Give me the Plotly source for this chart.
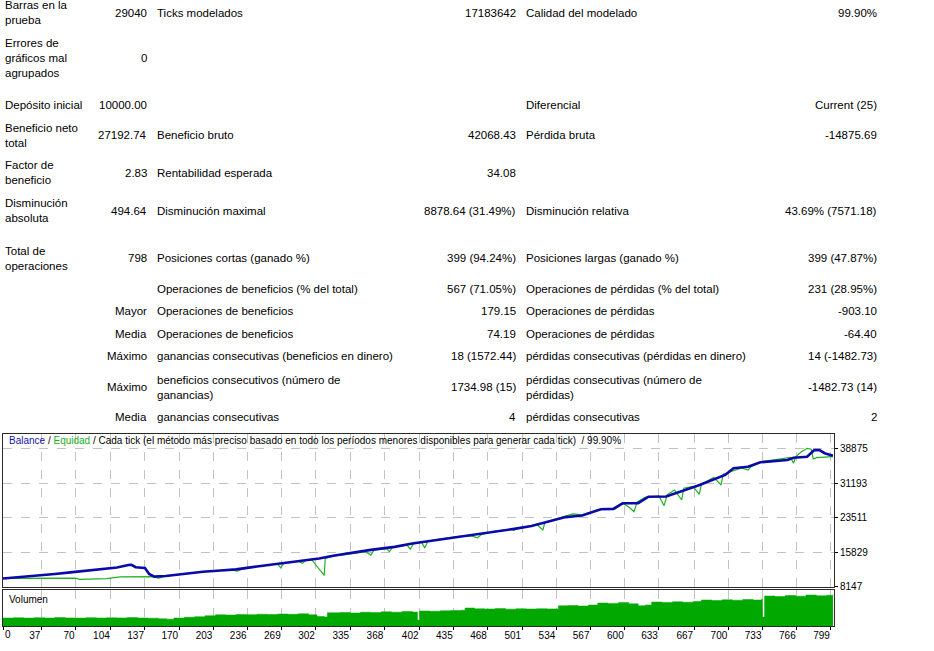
import plotly.graph_objects as go

# ---- report table (text only) ----
col1 = ["Barras en la<br>prueba", "Errores de<br>gráficos mal<br>agrupados", "Depósito inicial",
        "Beneficio neto<br>total", "Factor de<br>beneficio", "Disminución<br>absoluta",
        "Total de<br>operaciones", "", "", "", "", "", ""]
col2 = ["29040", "0", "10000.00", "27192.74", "2.83", "494.64", "798", "",
        "Mayor", "Media", "Máximo", "Máximo", "Media"]
col3 = ["Ticks modelados", "", "", "Beneficio bruto", "Rentabilidad esperada",
        "Disminución maximal", "Posiciones cortas (ganado %)",
        "Operaciones de beneficios (% del total)", "Operaciones de beneficios",
        "Operaciones de beneficios", "ganancias consecutivas (beneficios en dinero)",
        "beneficios consecutivos (número de<br>ganancias)", "ganancias consecutivas"]
col4 = ["17183642", "", "", "42068.43", "34.08", "8878.64 (31.49%)", "399 (94.24%)",
        "567 (71.05%)", "179.15", "74.19", "18 (1572.44)", "1734.98 (15)", "4"]
col5 = ["Calidad del modelado", "", "Diferencial", "Pérdida bruta", "",
        "Disminución relativa", "Posiciones largas (ganado %)",
        "Operaciones de pérdidas (% del total)", "Operaciones de pérdidas",
        "Operaciones de pérdidas", "pérdidas consecutivas (pérdidas en dinero)",
        "pérdidas consecutivas (número de<br>pérdidas)", "pérdidas consecutivas"]
col6 = ["99.90%", "", "Current (25)", "-14875.69", "", "43.69% (7571.18)", "399 (47.87%)",
        "231 (28.95%)", "-903.10", "-64.40", "14 (-1482.73)", "-1482.73 (14)", "2"]

# ---- balance curve ----
bal_x = [0, 20, 37, 50, 65, 80, 97, 110, 121, 124, 128, 133, 137, 141, 146, 157, 175, 193,
         210, 225, 245, 267, 285, 305, 320, 337, 355, 378, 395, 417, 435, 452, 470, 495,
         510, 526, 543, 559, 574, 577, 589, 598, 613, 623, 640, 671, 697, 705, 719, 731,
         757, 763, 776, 783, 788, 793, 801]
bal_y = [10000, 10350, 10700, 11000, 11360, 11680, 12030, 12450, 13000, 13050, 12500,
         12420, 12350, 11000, 10400, 10540, 11020, 11500, 11770, 12030, 12670, 13350,
         13920, 14460, 15120, 15790, 16370, 17030, 17770, 18510, 19070, 19620, 20270,
         21100, 21670, 22560, 23670, 24040, 25150, 25400, 25500, 26740, 26760, 28210,
         28250, 30690, 33060, 34540, 34890, 35870, 36380, 36900, 37120, 38610, 38580,
         37900, 37340]

# ---- equity curve ----
eq_x = [0, 20, 37, 60, 70, 74, 80, 100, 113, 135, 141, 146, 150, 153, 157, 175, 193, 210,
        220, 226, 230, 245, 265, 268, 271, 285, 289, 292, 298, 302, 306, 310, 311, 320,
        337, 350, 355, 358, 370, 373, 376, 390, 393, 396, 404, 407, 410, 420, 440, 452,
        458, 462, 475, 490, 493, 496, 505, 515, 521, 523, 530, 543, 550, 559, 574, 585,
        591, 598, 604, 609, 612, 620, 633, 638, 641, 648, 655, 657, 666, 672, 674, 686,
        693, 695, 713, 719, 722, 731, 745, 760, 763, 765, 770, 776, 780, 782, 785, 801]
eq_y = [10000, 9980, 9950, 10050, 10080, 9800, 9830, 9950, 10350, 10400, 10450, 10400,
        10000, 10250, 10540, 11020, 11520, 11770, 11920, 11620, 12020, 12670, 13270,
        12370, 13370, 13820, 13370, 13970, 14170, 13000, 11800, 10670, 14470, 15020,
        15520, 15970, 15170, 16320, 16670, 15970, 16970, 17420, 16520, 17670, 18070,
        16770, 18270, 18720, 19370, 19470, 19070, 19820, 20570, 20970, 20670, 21270,
        21470, 22070, 20820, 22470, 23020, 23970, 24370, 24170, 25320, 25470, 25470,
        26740, 25900, 24870, 27000, 28100, 28370, 26210, 28600, 29700, 27480, 30100,
        30500, 28750, 31000, 32500, 30820, 33200, 34600, 34150, 34900, 35950, 36500,
        36950, 35650, 37100, 38100, 38990, 38800, 36610, 36900, 37120]

# ---- volume ----
vol_x = [0, 10, 20, 30, 40, 50, 60, 70, 80, 90, 100, 110, 120, 130, 140, 150, 158, 165,
         175, 185, 195, 205, 215, 225, 235, 245, 255, 265, 275, 285, 295, 303, 310, 313,
         325, 335, 345, 355, 365, 375, 385, 395, 400, 402, 412, 422, 432, 442, 446, 455,
         465, 475, 485, 495, 505, 515, 525, 536, 545, 555, 565, 574, 584, 594, 604, 613,
         620, 626, 636, 646, 656, 666, 674, 684, 694, 704, 714, 724, 732, 733, 735, 745,
         755, 765, 775, 785, 795, 801]
vol_y = [0.80, 0.82, 0.79, 0.83, 0.80, 0.84, 0.81, 0.79, 0.83, 0.80, 0.82, 0.81, 0.84,
         0.80, 0.78, 0.72, 0.68, 0.80, 0.88, 0.93, 1.02, 1.12, 1.10, 1.16, 1.13, 1.18,
         1.15, 1.20, 1.17, 1.22, 1.12, 0.95, 0.90, 1.32, 1.35, 1.30, 1.38, 1.34, 1.42,
         1.38, 1.45, 1.40, 0.60, 1.50, 1.48, 1.52, 1.55, 1.58, 1.80, 1.72, 1.70, 1.74,
         1.68, 1.72, 1.70, 1.73, 1.71, 2.02, 2.05, 2.00, 2.10, 2.30, 2.26, 2.34, 2.22,
         2.02, 2.10, 2.40, 2.36, 2.42, 2.38, 2.45, 2.60, 2.55, 2.62, 2.58, 2.65, 2.60,
         2.68, 0.90, 3.00, 2.95, 3.05, 2.98, 3.10, 3.02, 3.08, 3.00]

x_ticks = [0, 37, 70, 104, 137, 170, 203, 236, 269, 302, 335, 368, 402, 435, 468, 501,
           534, 567, 600, 633, 667, 700, 733, 766, 799]
y_ticks = [8147, 15829, 23511, 31193, 38875]

title_txt = ('<span style="color:#1515A8">Balance</span> / '
             '<span style="color:#22B022">Equidad</span> / Cada tick (el método más preciso '
             'basado en todo los períodos menores disponibles para generar cada tick)  / 99.90%')

W, H = 934, 651


def fx(p):
    return p / W


def fy(p):
    return 1 - p / H


FONT = "Liberation Sans"
GRID = dict(showgrid=True, gridcolor="#C2C2C2", griddash="dash", gridwidth=1)
FRAME = dict(showline=True, linecolor="#2A2A2A", linewidth=1, mirror=True, zeroline=False,
             automargin=False)

fig = go.Figure()
fig.add_trace(go.Scatter(x=vol_x, y=vol_y, mode="lines", fill="tozeroy",
                         line=dict(color="#00A800", width=0.5, shape="hv"),
                         fillcolor="#00A800", xaxis="x2", yaxis="y2", hoverinfo="skip"))
fig.add_trace(go.Scatter(x=eq_x, y=eq_y, mode="lines", name="Equidad",
                         line=dict(color="#22B022", width=1.2)))
fig.add_trace(go.Scatter(x=bal_x, y=bal_y, mode="lines", name="Balance",
                         line=dict(color="#0A0AA8", width=2.6)))

fig.update_layout(
    width=W, height=H, margin=dict(l=0, r=0, t=0, b=0),
    paper_bgcolor="white", plot_bgcolor="white", showlegend=False,
    font=dict(family=FONT, size=11, color="black"),
    xaxis=dict(domain=[fx(3), fx(834)], range=[0, 802], anchor="y", tickvals=x_ticks,
               showticklabels=False, ticks="", **GRID, **FRAME),
    yaxis=dict(domain=[fy(587), fy(434)], range=[8100, 42175], anchor="x", side="right",
               tickvals=y_ticks, ticktext=[str(v) for v in y_ticks], ticks="outside",
               ticklen=3, tickcolor="#000", tickfont=dict(family=FONT, size=10),
               **GRID, **FRAME),
    xaxis2=dict(domain=[fx(3), fx(834)], range=[0, 802], anchor="y2", tickvals=x_ticks,
                ticktext=[""] + [str(v) for v in x_ticks[1:]],
                ticklabelposition="outside left", ticks="outside", ticklen=3,
                tickcolor="#000", tickfont=dict(family=FONT, size=10), **GRID, **FRAME),
    yaxis2=dict(domain=[fy(626), fy(590)], range=[0, 3.6], anchor="x2",
                showticklabels=False, ticks="", showgrid=False, **FRAME),
)

ann = []
row_y = [13, 58, 105, 135, 173, 211, 258, 289, 311, 334, 356, 387, 417]
cols = [(col1, 3, "left"), (col2, 149, "right"), (col3, 155, "left"),
        (col4, 518, "right"), (col5, 524, "left"), (col6, 879, "right")]
for texts, xp, al in cols:
    for t, yp in zip(texts, row_y):
        if t:
            ann.append(dict(x=fx(xp), y=fy(yp), xref="paper", yref="paper", text=t,
                            xanchor=al, yanchor="middle", align=al, showarrow=False,
                            font=dict(family=FONT, size=11.5, color="black")))

ann.append(dict(x=fx(7), y=fy(441), xref="paper", yref="paper", text=title_txt,
                xanchor="left", yanchor="middle", showarrow=False,
                font=dict(family=FONT, size=10, color="black")))
ann.append(dict(x=fx(7), y=fy(599), xref="paper", yref="paper", text="Volumen",
                xanchor="left", yanchor="middle", showarrow=False,
                font=dict(family=FONT, size=10, color="black")))
ann.append(dict(x=fx(3), y=fy(634), xref="paper", yref="paper", text="0",
                xanchor="left", yanchor="middle", showarrow=False,
                font=dict(family=FONT, size=10, color="black")))
fig.update_layout(annotations=ann)

fig.write_html("out.html", config={"displayModeBar": False},
               post_script="document.body.style.margin='0';")
